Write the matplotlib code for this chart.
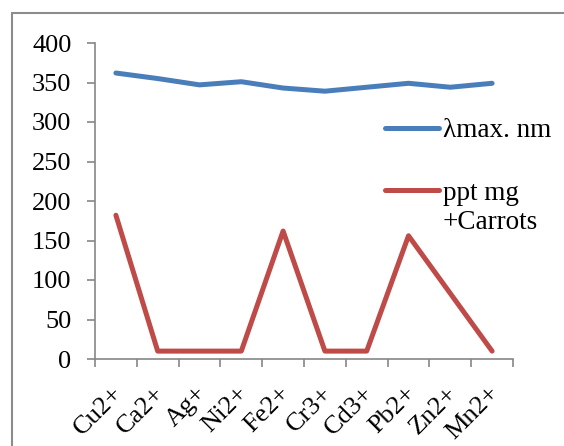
import matplotlib

matplotlib.use("Agg")
import matplotlib.pyplot as plt
from matplotlib.lines import Line2D
from matplotlib.patches import Rectangle
from matplotlib.transforms import ScaledTranslation

ions = ["Cu2+", "Ca2+", "Ag+", "Ni2+", "Fe2+", "Cr3+", "Cd3+", "Pb2+", "Zn2+", "Mn2+"]
lambda_max = [362, 355, 347, 351, 343, 339, 344, 349, 344, 349]
ppt_mg = [182, 10, 10, 10, 162, 10, 10, 156, 83, 10]

BLUE = "#4A7EBB"
RED = "#BE4B48"
W, H = 564, 446

plt.rcParams["font.family"] = ["Liberation Serif", "DejaVu Serif"]

fig = plt.figure(figsize=(W / 100, H / 100), dpi=100)
fig.patches.append(Rectangle((12 / W, -0.1), 1.2, (H - 13) / H + 0.1,
                             transform=fig.transFigure, fill=False,
                             edgecolor="#8c8c8c", linewidth=1.5))
ax = fig.add_axes([95 / W, 87 / H, 418 / W, 316 / H])

x = list(range(len(ions)))
ax.plot(x, lambda_max, color=BLUE, linewidth=3.6, solid_capstyle="round")
ax.plot(x, ppt_mg, color=RED, linewidth=3.6, solid_capstyle="round")

ax.set_xlim(-0.5, len(ions) - 0.5)
ax.set_ylim(0, 400)
ax.set_yticks(range(0, 401, 50))
ax.tick_params(axis="y", labelsize=19, length=6, color="#868686", width=1.2, pad=11)
ax.set_xticks(x)
ax.set_xticklabels(ions, rotation=45, ha="right", rotation_mode="anchor", fontsize=19)
ax.tick_params(axis="x", which="major", length=0, pad=17)
ax.set_xticks([i - 0.5 for i in range(len(ions) + 1)], minor=True)
ax.tick_params(axis="x", which="minor", length=6, color="#868686", width=1.2)
shift = ScaledTranslation(-4 / 100, 0, fig.dpi_scale_trans)
for lbl in ax.get_xticklabels():
    lbl.set_transform(lbl.get_transform() + shift)

for side in ("top", "right"):
    ax.spines[side].set_visible(False)
for side in ("left", "bottom"):
    ax.spines[side].set_color("#868686")
    ax.spines[side].set_linewidth(1.2)

# legend drawn by hand so the red key sits on the first label line
for color, y_line in ((BLUE, 128), (RED, 190)):
    fig.add_artist(Line2D([385 / W, 439 / W], [1 - y_line / H] * 2, color=color,
                          linewidth=3.6, solid_capstyle="round",
                          transform=fig.transFigure))
for label, y_base in (("λmax. nm", 137), ("ppt mg", 200), ("+Carrots", 229)):
    fig.text(443 / W, 1 - y_base / H, label, fontsize=19.5, va="baseline", ha="left")

fig.savefig("out.png", dpi=100)
